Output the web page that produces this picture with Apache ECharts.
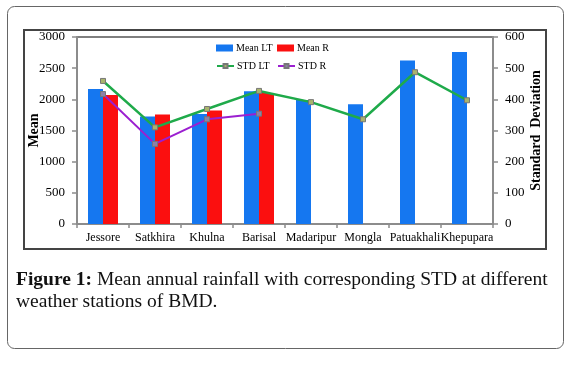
<!DOCTYPE html>
<html>
<head>
<meta charset="utf-8">
<script src="https://cdn.jsdelivr.net/npm/echarts@6/dist/echarts.min.js"></script>
<style>
html,body{margin:0;padding:0;background:#fff;}
#chart{width:571px;height:368px;}
</style>
</head>
<body>
<div id="chart"></div>
<script>
var categories = ['Jessore','Satkhira','Khulna','Barisal','Madaripur','Mongla','Patuakhali','Khepupara'];
var meanLT = [2165, 1725, 1765, 2130, 1990, 1920, 2625, 2760];
var meanR = [2070, 1755, 1820, 2100, null, null, null, null];
var stdLT = [459, 310, 369, 427, 391, 336, 487, 397];
var stdR = [417, 257, 336, 354, null, null, null, null];
var meanTicks = [0, 3000, 500];
var stdTicks = [0, 600, 100];
var captionBold = 'Figure 1:';
var captionRest = ' Mean annual rainfall with corresponding STD at different';
var captionLine2 = 'weather stations of BMD.';

var font = '"Liberation Serif", "Times New Roman", serif';
var chart = echarts.init(document.getElementById('chart'), null, {renderer: 'canvas'});

function legendAt(name, left, top, iw, ih, icon) {
  var l = {
    data: [name], left: left, top: top, itemWidth: iw, itemHeight: ih,
    itemGap: 2, padding: 0,
    textStyle: {fontFamily: font, fontSize: 10, color: '#000', padding: [0,0,0,-2]}
  };
  if (icon) l.icon = icon;
  return l;
}
function plain(v) { return String(v); }

var option = {
  animation: false,
  backgroundColor: '#fff',
  graphic: [
    {type: 'rect', shape: {x: 7.5, y: 6.5, width: 556, height: 342, r: 7}, style: {fill: 'none', stroke: '#666', lineWidth: 1}, z: -10},
    {type: 'rect', shape: {x: 24, y: 30, width: 522, height: 219}, style: {fill: 'none', stroke: '#444', lineWidth: 2}, z: -10},
    {type: 'text', left: 16, top: 270, style: {
      text: '{b|' + captionBold + '}{r|' + captionRest + '}\n{r|' + captionLine2 + '}',
      rich: {
        b: {fontFamily: font, fontSize: 19.5, fontWeight: 'bold', fill: '#111', lineHeight: 22},
        r: {fontFamily: font, fontSize: 19.5, fill: '#111', lineHeight: 22}
      }
    }}
  ],
  legend: [
    legendAt('Mean LT', 216, 43, 17, 7, 'rect'),
    legendAt('Mean R', 277, 43, 17, 7, 'rect'),
    legendAt('STD LT', 216, 61, 17, 5),
    legendAt('STD R', 277, 61, 17, 5)
  ],
  grid: {left: 77, right: 78, top: 37, bottom: 144, show: true, borderColor: '#555', borderWidth: 1.5, containLabel: false},
  xAxis: {
    type: 'category', data: categories,
    axisLine: {lineStyle: {color: '#8c8c8c', width: 2}},
    axisTick: {show: true, length: 4, lineStyle: {color: '#8c8c8c', width: 1.5}},
    axisLabel: {interval: 0, fontFamily: font, fontSize: 12, color: '#000', margin: 8}
  },
  yAxis: [
    {
      type: 'value', min: meanTicks[0], max: meanTicks[1], interval: meanTicks[2], position: 'left',
      name: 'Mean', nameLocation: 'middle', nameRotate: 90, nameGap: 36, nameMoveOverlap: false,
      nameTextStyle: {fontFamily: font, fontSize: 14, fontWeight: 'bold', color: '#000'},
      axisLine: {show: true, lineStyle: {color: '#8c8c8c', width: 2}},
      axisTick: {show: true, length: 5, lineStyle: {color: '#8c8c8c', width: 1.5}},
      axisLabel: {fontFamily: font, fontSize: 13, color: '#000', margin: 12, formatter: plain},
      splitLine: {show: false}
    },
    {
      type: 'value', min: stdTicks[0], max: stdTicks[1], interval: stdTicks[2], position: 'right',
      name: 'Standard  Deviation', nameLocation: 'middle', nameRotate: 90, nameGap: 36, nameMoveOverlap: false,
      nameTextStyle: {fontFamily: font, fontSize: 14, fontWeight: 'bold', color: '#000'},
      axisLine: {show: true, lineStyle: {color: '#8c8c8c', width: 2}},
      axisTick: {show: true, length: 5, lineStyle: {color: '#8c8c8c', width: 1.5}},
      axisLabel: {fontFamily: font, fontSize: 13, color: '#000', margin: 12, formatter: plain},
      splitLine: {show: false}
    }
  ],
  series: [
    {name: 'Mean LT', type: 'bar', data: meanLT, barWidth: 15, barGap: '0%', yAxisIndex: 0,
     itemStyle: {color: '#1577f0'}},
    {name: 'Mean R', type: 'bar', data: meanR, barWidth: 15, barGap: '0%', yAxisIndex: 0,
     itemStyle: {color: '#fb0f0f'}},
    {name: 'STD LT', type: 'line', data: stdLT, yAxisIndex: 1, z: 5,
     symbol: 'rect', symbolSize: 5, showAllSymbol: true,
     lineStyle: {color: '#1faa4a', width: 2.5},
     itemStyle: {color: '#a9b46c', borderColor: '#777', borderWidth: 1}},
    {name: 'STD R', type: 'line', data: stdR, yAxisIndex: 1, z: 5,
     symbol: 'rect', symbolSize: 5, showAllSymbol: true,
     lineStyle: {color: '#9b1fd0', width: 2},
     itemStyle: {color: '#8d80a8', borderColor: '#777', borderWidth: 1}}
  ]
};
chart.setOption(option);
</script>
</body>
</html>
